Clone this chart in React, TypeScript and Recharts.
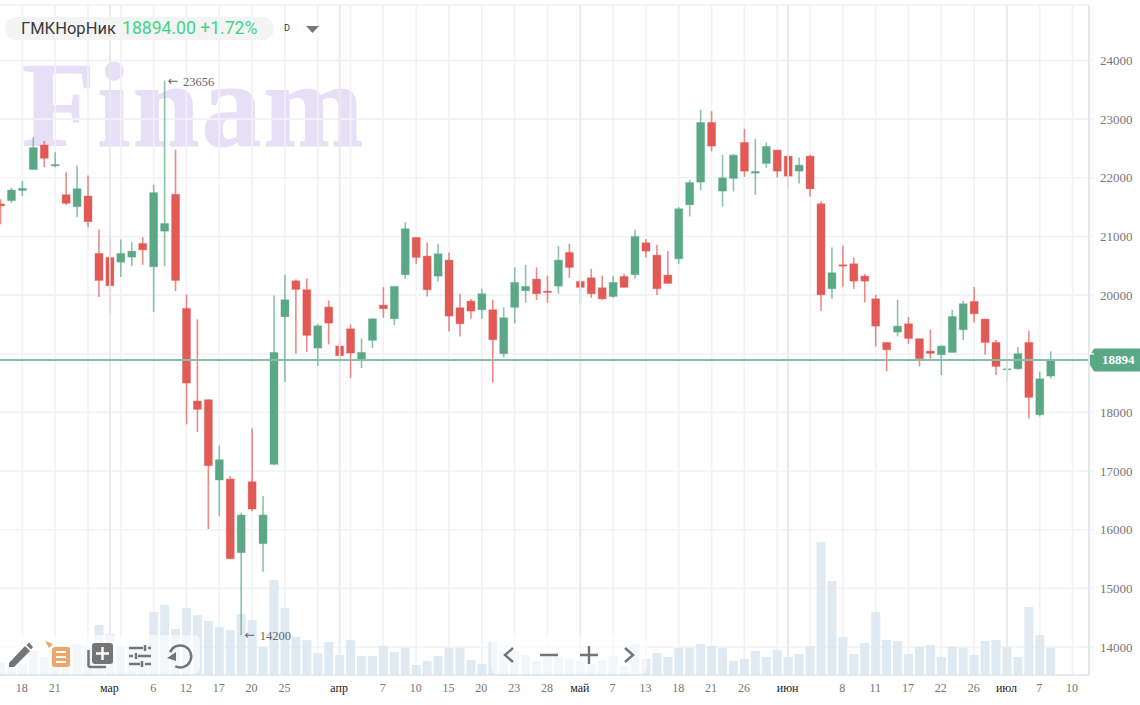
import { Bar, CartesianGrid, ComposedChart, ReferenceDot, ReferenceLine, XAxis, YAxis } from "recharts";

const opens = [21554,21610,21785,22141,22559,22203,21712,21508,21689,20710,20642,20562,20648,20880,20483,21090,21718,19773,18194,18216,16847,16864,15608,16818,15762,17115,19631,20244,20091,19097,19796,19131,19426,18904,19228,19829,19597,20347,20983,20665,20324,20597,19784,19898,19750,19750,19000,19790,20074,20273,20068,20153,20727,20233,20295,20125,19977,20318,20347,20892,20682,20341,20619,21540,21926,22943,21773,21989,22602,22080,22244,22472,22369,22114,22369,21557,20108,20517,20534,20324,19937,19193,19369,19511,19256,19045,18983,19023,19409,19892,19591,19193,18727,18744,19193,17960,18619];
const closes = [21520,21791,21819,22514,22333,22226,21565,21814,21254,20250,20159,20710,20750,20772,21747,21220,20250,18500,18052,17092,17193,15506,16250,16352,16250,19023,19920,20097,19313,19477,19523,18966,19012,19023,19597,19767,20148,21131,20642,20091,20704,19642,19511,19727,20023,19239,19614,20216,20148,20023,20045,20597,20472,20131,20023,19937,20216,20131,21000,20750,20108,20199,21472,21920,22943,22540,22000,22386,22114,22108,22534,22114,22028,22216,21812,20006,20381,20494,20239,20239,19471,19068,19471,19261,18915,19006,19131,19636,19852,19682,19193,18784,18744,19000,18256,18574,18892];
const highs = [21633,21830,21944,22689,22627,22435,22096,22209,22040,21119,20988,20949,20903,20988,21878,23656,22480,20011,19585,18220,17438,16915,16290,17728,16574,19994,20352,20267,20284,19512,19909,19239,19500,19262,19602,20136,20150,21244,20990,20898,20875,20727,20023,19932,20108,19920,19790,20472,20517,20472,20330,20841,20875,20273,20449,20330,20330,20364,21114,20955,20858,20750,21500,21966,23159,23136,22392,22403,22835,22665,22602,22472,22403,22347,22392,21602,20812,20841,20642,20364,20006,19193,19920,19625,19256,19409,19148,19750,19903,20136,19591,19233,18898,19114,19392,18699,19040];
const lows = [21209,21576,21689,22141,22181,22181,21537,21328,21158,19966,19671,20307,20494,20517,19710,20494,20068,17796,17666,16012,16228,15500,14200,16313,15285,17100,18518,19006,19029,18790,19159,18841,18586,18756,19097,19614,19488,20278,20534,19977,20233,19381,19295,19597,19597,18511,18937,19517,19869,19915,19869,20023,20295,19858,19955,19915,19955,20131,20278,20642,20000,20199,20534,21341,21790,22449,21511,21767,22017,21710,22170,22006,21818,21903,21682,19727,19937,20148,20108,19875,19125,18699,19295,19170,18784,18915,18636,19023,19233,19534,18983,18636,18528,18727,17892,17932,18580];
const volumes = [12,7,11,24,18,22,28,31,27,50,41,28,28,28,63,70,46,67,60,54,48,45,61,55,28,95,67,38,35,22,33,20,35,19,19,29,23,27,10,14,19,27,27,15,11,33,24,24,20,14,18,18,16,14,11,15,19,9,31,16,22,18,27,27,31,29,27,14,16,24,18,25,18,21,29,133,94,38,21,32,63,35,34,21,28,30,18,28,27,20,34,35,28,18,68,40,27];

const tickIndexes = [2,5,8,10,11,14,17,20,23,26,29,31,32,35,38,41,44,47,50,53,56,59,62,65,68,71,72,74,77,80,83,86,89,92,95,98];
const tickLabels = ["18","21","","мар","","6","12","17","20","25","","апр","","7","10","15","20","23","28","май","7","13","18","21","26","","июн","","8","11","17","22","26","июл","7","10"];
const monthIndexes = [10,31,53,72,92];
const priceTicks = [14000,15000,16000,17000,18000,19000,20000,21000,22000,23000,24000];
const lastPrice = 18894;
const rowCount = 100;

const GREEN = "#5ba887";
const RED = "#e25a55";
const GRID = "#f0f2f5";
const SERIF = "'Liberation Serif', serif";

const rows = Array.from({ length: rowCount }, (_, i) => ({
  idx: i,
  open: opens[i],
  close: closes[i],
  high: highs[i],
  low: lows[i],
  volume: volumes[i],
  range: i < opens.length ? [lows[i], highs[i]] : null,
}));

function Candle(props: any) {
  const { x, y, width, height, payload } = props;
  if (payload.open === undefined) return null;
  const h = Math.abs(height);
  const top = Math.min(y, y + height);
  const perUnit = h / (payload.high - payload.low);
  const toY = (v: number) => top + (payload.high - v) * perUnit;
  const up = payload.close >= payload.open;
  const color = up ? GREEN : RED;
  const cx = x + width / 2;
  const bodyTop = toY(Math.max(payload.open, payload.close));
  const bodyH = Math.max(toY(Math.min(payload.open, payload.close)) - bodyTop, 1);
  return (
    <g>
      <line x1={cx} x2={cx} y1={top} y2={top + h} stroke={color} strokeWidth={1.6} strokeOpacity={0.7} />
      <rect x={x + 0.5} y={bodyTop} width={width - 1} height={bodyH} fill={color} stroke={color} strokeOpacity={0.35} />
    </g>
  );
}

function DateTick(props: any) {
  const { x, y, payload } = props;
  const pos = tickIndexes.indexOf(payload.value);
  const isMonth = monthIndexes.includes(payload.value);
  return (
    <text x={x - 0.5} y={y + 9} textAnchor="middle" fontFamily={SERIF} fontSize={12} fill={isMonth ? "#222" : "#777"}>
      {tickLabels[pos]}
    </text>
  );
}

function ExtremeMark(props: any) {
  const { cx, cy, text } = props;
  return (
    <g fill="#666" fontSize={12.5} fontFamily={SERIF}>
      <text x={cx + 3} y={cy + 4} fontFamily="'DejaVu Sans'" fontSize={12.5}>←</text>
      <text x={cx + 18.5} y={cy + 5}>{text}</text>
    </g>
  );
}

function PriceBadge(props: any) {
  const y = props.viewBox.y;
  const x = props.viewBox.x + props.viewBox.width;
  return (
    <g>
      <path
        d={`M${x + 5} ${y - 11.5} H${x + 52} V${y + 11.5} H${x + 5} L${x + 0.5} ${y + 4} V${y - 4} Z`}
        fill={GREEN}
      />
      <text x={x + 13} y={y + 4.5} fill="#fff" fontFamily={SERIF} fontWeight="bold" fontSize={13}>
        {lastPrice}
      </text>
    </g>
  );
}

function Toolbars() {
  const grey = "#757575";
  return (
    <svg width={1140} height={705} style={{ position: "absolute", left: 0, top: 0, pointerEvents: "none" }}>
      <rect x={-6} y={635} width={206} height={39} rx={6} fill="#fff" fillOpacity={0.6} />
      <rect x={491} y={635} width={156} height={39} rx={6} fill="#fff" fillOpacity={0.6} />
      {/* pencil */}
      <path d="M9 663 L9 667 L14 667 L30 651 L25 646 Z M26.5 645 L31 649.5 L33 647 L29 642.5 Z" fill={grey} />
      {/* orange list */}
      <path d="M45 641 L53 644 L49 648 Z" fill="#f0a56b" />
      <rect x={52} y={647} width={18} height={20} rx={3} fill="#f0a56b" />
      <path d="M56 652 H66 M56 657 H66 M56 662 H66" stroke="#fff" strokeWidth={2} />
      {/* add layer */}
      <path d="M88.5 650 V665 Q88.5 667 90.5 667 H106" stroke={grey} strokeWidth={2.5} fill="none" />
      <rect x={92} y={643} width={21} height={21} rx={3} fill={grey} />
      <path d="M102.5 647 V660 M96 653.5 H109" stroke="#fff" strokeWidth={2.5} />
      {/* sliders */}
      <path
        d="M129 648 H143 M148 648 H151 M129 656 H133 M138 656 H151 M129 664 H140 M145 664 H151 M145 645 V651 M136 653 V659 M142 661 V667"
        stroke={grey}
        strokeWidth={2.5}
        fill="none"
      />
      {/* undo */}
      <path d="M172 649 A11 11 0 1 1 172 664" stroke={grey} strokeWidth={2.5} fill="none" transform="rotate(-20 180 656)" />
      <path d="M167 658 L176 652 L176 661 Z" fill={grey} />
      {/* pager */}
      <path d="M513 648 L505 655 L513 662 M625 648 L633 655 L625 662" stroke={grey} strokeWidth={2.5} fill="none" />
      <path d="M540 655 H558 M580 655 H598 M589 646 V664" stroke={grey} strokeWidth={2.5} fill="none" />
    </svg>
  );
}

export default function App() {
  return (
    <div style={{ position: "fixed", left: 0, top: 0, width: 1140, height: 705, overflow: "hidden", background: "#fff" }}>
      <div
        style={{
          position: "absolute",
          left: 22,
          top: 46,
          fontFamily: SERIF,
          fontWeight: "bold",
          fontSize: 120,
          lineHeight: "120px",
          letterSpacing: 2,
          color: "#e7dff5",
          WebkitTextStroke: "1px #e7dff5",
          whiteSpace: "nowrap",
        }}
      >
        Finam
      </div>
      <div style={{ position: "absolute", left: -5.5, top: 0 }}>
        <ComposedChart width={1146} height={705} data={rows} margin={{ top: 5, right: 0, bottom: 0, left: 0 }}>
          <CartesianGrid stroke={GRID} strokeWidth={1.6} />
          <XAxis
            dataKey="idx"
            ticks={tickIndexes}
            interval={0}
            height={30}
            tick={<DateTick />}
            tickLine={false}
            axisLine={{ stroke: "#d8e0e8" }}
          />
          <XAxis xAxisId="vol" dataKey="idx" hide />
          <YAxis
            orientation="right"
            width={52}
            domain={[13523, 24946]}
            ticks={priceTicks}
            allowDataOverflow
            axisLine={{ stroke: "#e4e6e9", strokeWidth: 2 }}
            tickLine={{ stroke: GRID, strokeWidth: 1.6 }}
            tickSize={5}
            tickMargin={6}
            tick={{ fill: "#777", fontSize: 13, fontFamily: SERIF }}
            tickFormatter={(v: number) => (v === 19000 ? "" : String(v))}
          />
          <YAxis yAxisId="vol" hide domain={[0, 670]} />
          {monthIndexes.map((m) => (
            <ReferenceLine key={m} x={m} stroke="#e6e8ec" strokeWidth={1.6} />
          ))}
          <Bar
            xAxisId="vol"
            yAxisId="vol"
            dataKey="volume"
            barSize={9}
            fill="#dbe6f1"
            fillOpacity={0.85}
            isAnimationActive={false}
          />
          <Bar dataKey="range" barSize={9} shape={<Candle />} isAnimationActive={false} />
          <ReferenceLine y={lastPrice} stroke="#86bfa4" strokeWidth={2} label={<PriceBadge />} />
          <ReferenceDot x={15} y={23656} r={0} shape={<ExtremeMark text="23656" />} />
          <ReferenceDot x={22} y={14200} r={0} shape={<ExtremeMark text="14200" />} />
        </ComposedChart>
      </div>
      <div
        style={{
          position: "absolute",
          left: 5,
          top: 17,
          width: 269,
          height: 23,
          borderRadius: 12,
          background: "#f4f4f4",
          fontFamily: "Roboto, sans-serif",
          lineHeight: "23px",
          whiteSpace: "nowrap",
        }}
      >
        <span style={{ position: "absolute", left: 16, fontSize: 16.5, color: "#3a3a3a" }}>ГМКНорНик</span>
        <span style={{ position: "absolute", left: 117, fontSize: 17.6, color: "#3fd686" }}>18894.00 +1.72%</span>
      </div>
      <div style={{ position: "absolute", left: 284, top: 23, fontFamily: "Roboto, sans-serif", fontSize: 9, color: "#333" }}>D</div>
      <svg width={16} height={10} style={{ position: "absolute", left: 305, top: 25 }}>
        <path d="M1 1 H14 L7.5 8 Z" fill="#777" />
      </svg>
      <Toolbars />
    </div>
  );
}
